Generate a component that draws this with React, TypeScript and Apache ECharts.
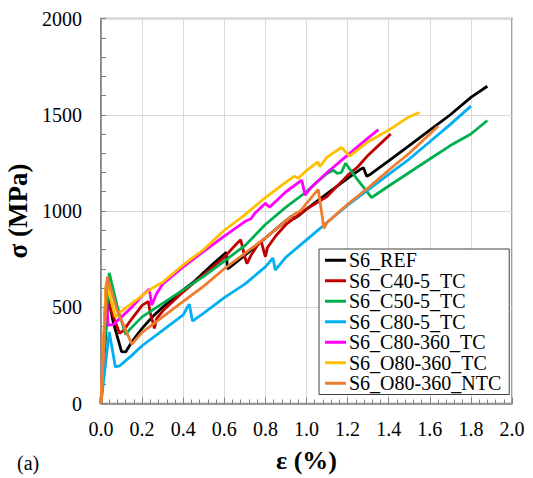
import React, { useEffect, useRef } from "react";
import * as echarts from "echarts";

const seriesNames = [
  "S6_REF",
  "S6_C40-5_TC",
  "S6_C50-5_TC",
  "S6_C80-5_TC",
  "S6_C80-360_TC",
  "S6_O80-360_TC",
  "S6_O80-360_NTC",
];

const seriesColors = ["#000000", "#c00000", "#00b050", "#00b0f0", "#ff00ff", "#ffc000", "#ed7d31"];

const xTicks = [0, 0.2, 0.4, 0.6, 0.8, 1.0, 1.2, 1.4, 1.6, 1.8, 2.0];
const yTicks = [0, 500, 1000, 1500, 2000];

const ref: number[][] = [
  [0, 0], [0.035, 555], [0.06, 420], [0.1, 270], [0.12, 268], [0.15, 320], [0.2, 390], [0.25, 450],
  [0.3, 500], [0.35, 545], [0.4, 590], [0.45, 630], [0.5, 680], [0.55, 730], [0.61, 785], [0.615, 700],
  [0.625, 705], [0.7, 770], [0.8, 860], [0.9, 950], [0.93, 975], [0.94, 960], [0.96, 975], [1.0, 1010],
  [1.1, 1090], [1.2, 1170], [1.26, 1215], [1.277, 1225], [1.293, 1180], [1.31, 1190], [1.4, 1260],
  [1.5, 1340], [1.6, 1420], [1.7, 1500], [1.8, 1590], [1.88, 1648],
];

const c40: number[][] = [
  [0, 0], [0.025, 610], [0.05, 480], [0.09, 365], [0.11, 380], [0.15, 440], [0.2, 510], [0.23, 530],
  [0.24, 470], [0.26, 390], [0.27, 440], [0.3, 480], [0.4, 580], [0.5, 670], [0.6, 760], [0.66, 830],
  [0.68, 850], [0.7, 760], [0.71, 727], [0.73, 770], [0.76, 820], [0.78, 843], [0.79, 800], [0.8, 762],
  [0.81, 810], [0.85, 870], [0.9, 930], [1.0, 1010], [1.1, 1075], [1.2, 1185], [1.25, 1230], [1.3, 1290],
  [1.36, 1350], [1.41, 1400],
];

const c50: number[][] = [
  [0, 0], [0.04, 679], [0.08, 500], [0.12, 358], [0.14, 385], [0.2, 450], [0.3, 520], [0.4, 590],
  [0.5, 660], [0.6, 740], [0.7, 820], [0.8, 930], [0.9, 1020], [1.0, 1100], [1.05, 1150], [1.1, 1195],
  [1.13, 1212], [1.15, 1195], [1.17, 1200], [1.19, 1248], [1.25, 1160], [1.317, 1070], [1.4, 1130],
  [1.5, 1200], [1.6, 1270], [1.7, 1340], [1.8, 1400], [1.88, 1470],
];

const c80: number[][] = [
  [0, 0], [0.04, 372], [0.07, 190], [0.09, 195], [0.15, 250], [0.2, 300], [0.3, 380], [0.4, 460],
  [0.42, 500], [0.43, 516], [0.445, 428], [0.5, 470], [0.6, 550], [0.7, 620], [0.8, 710], [0.837, 756],
  [0.848, 693], [0.9, 760], [1.0, 850], [1.1, 940], [1.2, 1030], [1.3, 1110], [1.4, 1190], [1.5, 1270],
  [1.6, 1360], [1.7, 1450], [1.8, 1545],
];

const c80360: number[][] = [
  [0, 0], [0.025, 580], [0.035, 407], [0.06, 410], [0.1, 450], [0.15, 500], [0.2, 560], [0.235, 594],
  [0.247, 511], [0.27, 570], [0.3, 620], [0.4, 710], [0.5, 790], [0.6, 870], [0.7, 945], [0.73, 960],
  [0.75, 990], [0.8, 1040], [0.82, 1020], [0.9, 1100], [0.977, 1160], [0.993, 1082], [1.02, 1120],
  [1.1, 1200], [1.2, 1290], [1.3, 1380], [1.35, 1423],
];

const o80360: number[][] = [
  [0, 0], [0.025, 630], [0.07, 450], [0.1, 480], [0.2, 560], [0.25, 600], [0.3, 630], [0.4, 720],
  [0.5, 800], [0.6, 900], [0.7, 980], [0.8, 1070], [0.9, 1150], [0.94, 1180], [0.96, 1170], [1.0, 1210],
  [1.055, 1255], [1.065, 1230], [1.1, 1280], [1.17, 1330], [1.21, 1285], [1.3, 1360], [1.4, 1420],
  [1.5, 1490], [1.55, 1512],
];

const o80360ntc: number[][] = [
  [0, 0], [0.03, 658], [0.08, 480], [0.15, 308], [0.2, 370], [0.3, 450], [0.4, 530], [0.5, 610],
  [0.6, 700], [0.7, 780], [0.8, 860], [0.9, 950], [0.95, 990], [0.97, 1000], [1.0, 1040], [1.057, 1112],
  [1.085, 910], [1.1, 940], [1.2, 1035], [1.3, 1120], [1.42, 1230], [1.5, 1300], [1.6, 1400], [1.64, 1440],
];

const allData = [ref, c40, c50, c80, c80360, o80360, o80360ntc];

const FONT = "Liberation Serif";

export default function App() {
  const ref1 = useRef<HTMLDivElement>(null);
  useEffect(() => {
    if (!ref1.current) return;
    const chart = echarts.init(ref1.current, null, { renderer: "svg" });
    chart.setOption({
      animation: false,
      backgroundColor: "#ffffff",
      textStyle: { fontFamily: FONT },
      grid: {
        left: 101,
        right: 21,
        top: 18.5,
        bottom: 74.5,
        show: true,
        borderColor: "#808080",
        borderWidth: 1.5,
        outerBoundsMode: "none",
      },
      xAxis: {
        type: "value",
        min: xTicks[0],
        max: xTicks[xTicks.length - 1],
        interval: 0.2,
        name: "ε (%)",
        nameLocation: "middle",
        nameGap: 44,
        nameTextStyle: { fontFamily: FONT, fontSize: 26, fontWeight: "bold", color: "#000" },
        axisLine: { show: true, lineStyle: { color: "#808080", width: 1.5 } },
        axisTick: { show: true, inside: true, length: 6, lineStyle: { color: "#808080", width: 1 } },
        minorTick: { show: true, splitNumber: 5, length: 4, lineStyle: { color: "#808080", width: 1 } },
        axisLabel: {
          fontFamily: FONT,
          fontSize: 20,
          color: "#000",
          margin: 15,
          formatter: (v: number) => v.toFixed(1),
        },
        splitLine: { show: true, lineStyle: { color: "#d9d9d9", width: 1 } },
      },
      yAxis: {
        type: "value",
        min: yTicks[0],
        max: yTicks[yTicks.length - 1],
        interval: 500,
        name: "σ (MPa)",
        nameLocation: "middle",
        nameGap: 46,
        nameTextStyle: { fontFamily: FONT, fontSize: 27, fontWeight: "bold", color: "#000" },
        axisLine: { show: true, lineStyle: { color: "#808080", width: 1.5 } },
        axisTick: { show: true, inside: true, length: 5, lineStyle: { color: "#808080", width: 1 } },
        minorTick: { show: true, splitNumber: 5, length: 5, lineStyle: { color: "#808080", width: 1 } },
        axisLabel: {
          fontFamily: FONT,
          fontSize: 20,
          color: "#000",
          margin: 19,
          formatter: (v: number) => String(v),
        },
        splitLine: { show: true, lineStyle: { color: "#d9d9d9", width: 1 } },
      },
      legend: {
        orient: "vertical",
        left: 319,
        top: 249,
        padding: [1, 8, 1, 6],
        itemGap: 0,
        itemWidth: 21,
        itemHeight: 3,
        icon: "rect",
        borderColor: "#404040",
        borderWidth: 1,
        backgroundColor: "#ffffff",
        textStyle: { fontFamily: FONT, fontSize: 20, color: "#000", lineHeight: 20.5, padding: [0, 0, 0, -2] },
        data: seriesNames,
      },
      graphic: [
        {
          type: "text",
          left: 17,
          top: 453,
          style: { text: "(a)", fontFamily: FONT, fontSize: 20, fill: "#000" },
        },
      ],
      series: allData.map((d, i) => ({
        name: seriesNames[i],
        type: "line",
        data: d,
        showSymbol: false,
        symbol: "none",
        color: seriesColors[i],
        lineStyle: { color: seriesColors[i], width: 2.8 },
        z: 2 + i,
      })),
    });
    return () => chart.dispose();
  }, []);
  return <div ref={ref1} style={{ position: "absolute", left: 0, top: 0, width: 533, height: 478 }} />;
}
